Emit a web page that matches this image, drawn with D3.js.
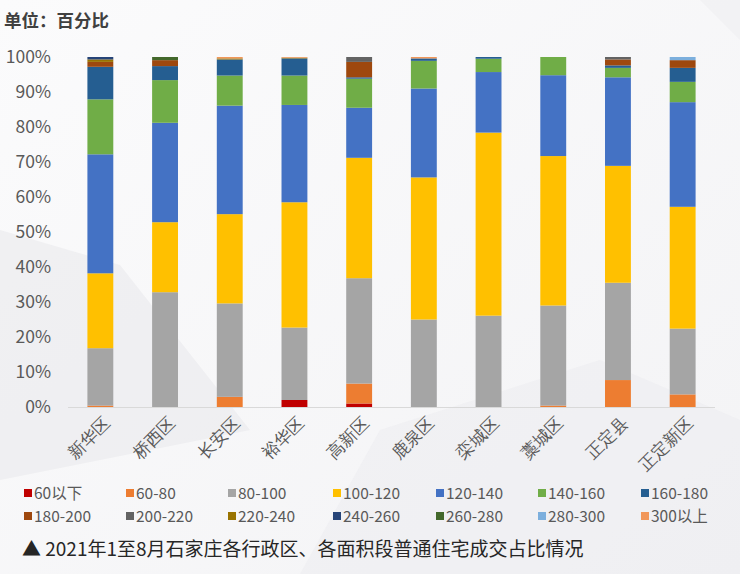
<!DOCTYPE html>
<html><head><meta charset="utf-8">
<script src="https://cdn.jsdelivr.net/npm/d3@7"></script>
<style>
html,body{margin:0;padding:0;background:#f7f7f8;}
svg{display:block;font-family:"Noto Sans CJK SC","Noto Sans",sans-serif;}
</style></head>
<body>
<svg id="c" width="740" height="574"></svg>
<script>
const categories = ["新华区","桥西区","长安区","裕华区","高新区","鹿泉区","栾城区","藁城区","正定县","正定新区"];
const seriesNames = ["60以下","60-80","80-100","100-120","120-140","140-160","160-180","180-200","200-220","220-240","240-260","260-280","280-300","300以上"];
const colors = ["#C00000","#ED7D31","#A5A5A5","#FFC000","#4472C4","#70AD47","#255E91","#9E480E","#636363","#997300","#264478","#43682B","#7CAFDD","#F1975A"];
// values per series (percent), in category order
const s60below = [0,0,0,2.0,1.0,0,0,0,0,0];
const s60_80   = [0.4,0,2.9,0,5.7,0,0,0.4,7.7,3.6];
const s80_100  = [16.4,32.8,26.7,20.7,30.1,25.0,26.1,28.6,27.8,18.8];
const s100_120 = [21.4,20.0,25.5,35.8,34.4,40.6,52.3,42.7,33.4,34.8];
const s120_140 = [34.0,28.4,31.0,27.8,14.3,25.4,17.3,23.1,25.3,29.9];
const s140_160 = [15.7,12.2,8.6,8.4,8.3,7.9,3.8,5.2,2.7,5.8];
const s160_180 = [9.3,4.0,4.6,4.9,0.4,0.7,0.5,0,0.7,4.0];
const s180_200 = [1.4,1.7,0,0,4.4,0,0,0,1.7,2.2];
const s200_220 = [0,0,0,0,1.4,0,0,0,0.7,0];
const s220_240 = [0.7,0,0.3,0.2,0,0,0,0,0,0];
const s240_260 = [0.7,0,0,0,0,0,0,0,0,0];
const s260_280 = [0,0.9,0,0,0,0,0,0,0,0];
const s280_300 = [0,0,0,0,0,0,0,0,0,0.9];
const s300up   = [0,0,0.4,0.2,0,0.4,0,0,0,0];
const seriesValues = [s60below,s60_80,s80_100,s100_120,s120_140,s140_160,s160_180,s180_200,s200_220,s220_240,s240_260,s260_280,s280_300,s300up];
const yTicks = [0,10,20,30,40,50,60,70,80,90,100];

const svg = d3.select("#c");
// background
const defs = svg.append("defs");
const g0 = defs.append("linearGradient").attr("id","bg").attr("x1","0").attr("y1","0").attr("x2","1").attr("y2","1");
g0.append("stop").attr("offset","0").attr("stop-color","#fbfbfc");
g0.append("stop").attr("offset","1").attr("stop-color","#f3f3f5");
svg.append("rect").attr("width",740).attr("height",574).attr("fill","url(#bg)");
svg.append("path").attr("d","M0,230 L120,265 L250,430 L0,480 Z").attr("fill","#e9e9ec").attr("opacity",0.6);
svg.append("path").attr("d","M380,430 L600,360 L740,420 L740,574 L300,574 Z").attr("fill","#ececef").attr("opacity",0.5);
svg.append("path").attr("d","M120,0 L700,0 L740,40 L740,0 Z").attr("fill","#ededf0").attr("opacity",0.5);

const rows = categories.map((c,i)=>{const o={cat:c}; seriesNames.forEach((s,j)=>o[s]=seriesValues[j][i]); return o;});
const stack = d3.stack().keys(seriesNames)(rows);

const x = d3.scaleBand().domain(categories).range([68,715]).paddingInner(0.6).paddingOuter(0.3);
const y = d3.scaleLinear().domain([0,100]).range([407,57]);

// axis line
svg.append("line").attr("x1",68).attr("x2",715).attr("y1",407.5).attr("y2",407.5).attr("stroke","#d9d9d9").attr("stroke-width",1);

// y axis labels
const ya = svg.append("g").attr("transform","translate(51,0)")
  .call(d3.axisLeft(y).tickValues(yTicks).tickFormat(d=>d+"%").tickSize(0).tickPadding(0));
ya.select(".domain").remove();
ya.selectAll("text").attr("fill","#595959").style("font-size","17.5px").style("font-family","'Noto Sans CJK SC',sans-serif");

// bars
svg.append("g").selectAll("g").data(stack).join("g").attr("fill",(d,i)=>colors[i])
  .selectAll("rect").data(d=>d).join("rect")
  .attr("x",d=>x(d.data.cat)).attr("width",x.bandwidth())
  .attr("y",d=>y(d[1])).attr("height",d=>Math.max(0,y(d[0])-y(d[1])));

// x labels
const xa = svg.append("g").attr("transform","translate(0,407)")
  .call(d3.axisBottom(x).tickSize(0).tickPadding(0));
xa.select(".domain").remove();
xa.selectAll("text").attr("fill","#595959").style("font-size","17px")
  .attr("text-anchor","end").attr("dy",null).attr("y",0)
  .attr("transform","translate(11,17) rotate(-45)");

// title
svg.append("text").attr("x",4).attr("y",27).text("单位：百分比").attr("fill","#404040").style("font-size","17.5px").style("font-weight","bold");

// legend
const legX = [24,126,228,333,436,538,641];
const lg = svg.append("g");
seriesNames.forEach((s,i)=>{
  const col = i%7, row = Math.floor(i/7);
  const gx = legX[col], gy = 494 + row*23;
  lg.append("rect").attr("x",gx).attr("y",gy-5).attr("width",8).attr("height",8).attr("fill",colors[i]);
  lg.append("text").attr("x",gx+10).attr("y",gy+5).text(s).attr("fill","#595959").style("font-size","15.5px");
});

// caption
svg.append("text").attr("x",22).attr("y",556).text("▲ 2021年1至8月石家庄各行政区、各面积段普通住宅成交占比情况")
  .attr("fill","#262626").style("font-size","19px");
</script>
</body></html>
